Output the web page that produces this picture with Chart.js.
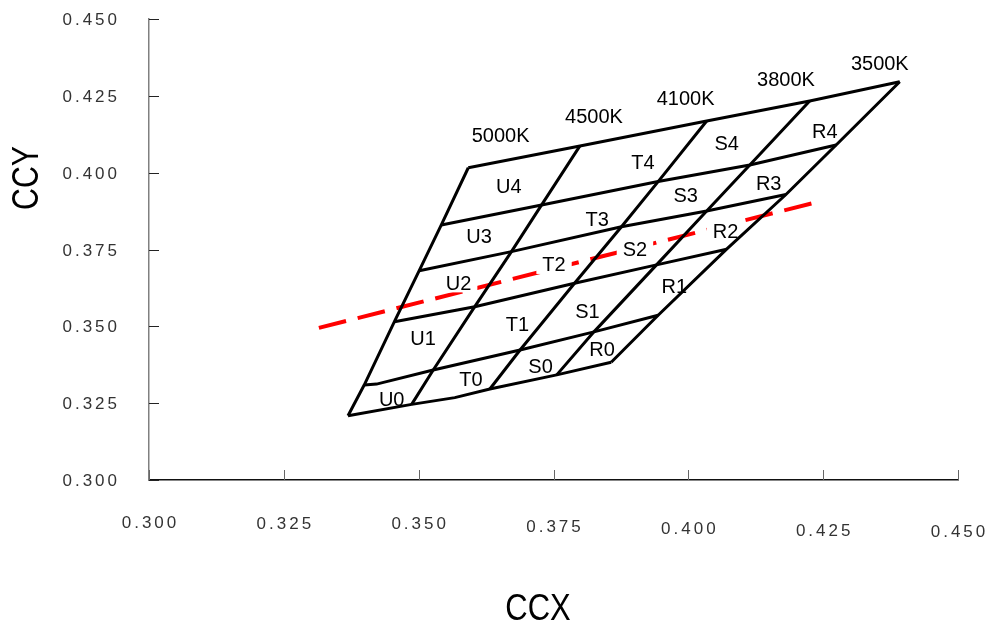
<!DOCTYPE html>
<html>
<head>
<meta charset="utf-8">
<script src="https://cdn.jsdelivr.net/npm/chart.js@4.4.1/dist/chart.umd.min.js"></script>
<style>
  html, body { margin: 0; padding: 0; background: #fff; }
  #wrap { width: 988px; height: 629px; position: relative; }
</style>
</head>
<body>
<div id="wrap"><canvas id="ccx-chart"></canvas></div>
<script>
// Bin grid corners, rows bottom -> top (0..5),
// columns: U left edge, U/T, T/S, S/R, R right edge
const gridX = [
  [0.3369, 0.3487, 0.3632, 0.3756, 0.3857],
  [0.3399, 0.3527, 0.3688, 0.3825, 0.3944],
  [0.3455, 0.3604, 0.3789, 0.3941, 0.4071],
  [0.3501, 0.3672, 0.3876, 0.4034, 0.4181],
  [0.3542, 0.3728, 0.3944, 0.4114, 0.4274],
  [0.3592, 0.3799, 0.4034, 0.4225, 0.4392]
];
const gridY = [
  [0.3209, 0.3246, 0.3296, 0.3342, 0.3383],
  [0.3309, 0.3358, 0.3423, 0.3482, 0.3536],
  [0.3515, 0.3564, 0.3640, 0.3700, 0.3751],
  [0.3681, 0.3743, 0.3824, 0.3875, 0.3929],
  [0.3830, 0.3895, 0.3971, 0.4025, 0.4090],
  [0.4016, 0.4087, 0.4168, 0.4233, 0.4296]
];
// small bends in the two lowest lines
const bottomKink = [0.3567, 0.3268];
const row1Hook = [0.3422, 0.3312];

// bin names and where they sit
const binNames = [
  'U0', 'U1', 'U2', 'U3', 'U4',
  'T0', 'T1', 'T2', 'T3', 'T4',
  'S0', 'S1', 'S2', 'S3', 'S4',
  'R0', 'R1', 'R2', 'R3', 'R4'
];
const binX = [
  0.3450, 0.3508, 0.3574, 0.3612, 0.3667,
  0.3597, 0.3683, 0.3751, 0.3831, 0.3916,
  0.3726, 0.3813, 0.3901, 0.3995, 0.4071,
  0.3840, 0.3974, 0.4069, 0.4149, 0.4253
];
const binY = [
  0.3264, 0.3464, 0.3643, 0.3794, 0.3957,
  0.3329, 0.3508, 0.3703, 0.3849, 0.4036,
  0.3371, 0.3550, 0.3752, 0.3927, 0.4098,
  0.3426, 0.3631, 0.3811, 0.3968, 0.4136
];

const cctLabels = ['5000K', '4500K', '4100K', '3800K', '3500K'];
const cctX = [0.3652, 0.3825, 0.3995, 0.4181, 0.4355];
const cctY = [0.4124, 0.4185, 0.4243, 0.4306, 0.4357];

// red dashed line
const dashX = [0.3315, 0.4231];
const dashY = [0.3495, 0.3901];

const xTicks = [0.300, 0.325, 0.350, 0.375, 0.400, 0.425, 0.450];
const yTicks = [0.300, 0.325, 0.350, 0.375, 0.400, 0.425, 0.450];

const BIN_FONT = '20px "Liberation Sans", Arial, sans-serif';
const TICK_FONT = '17px "Liberation Sans", Arial, sans-serif';
const TITLE_FONT = '36px "Liberation Sans", Arial, sans-serif';
const xLabelTop = [522, 523, 523, 526, 528, 530, 531];

// build polylines
const lineStyle = {
  borderColor: '#000',
  borderWidth: 3,
  pointRadius: 0,
  showLine: true,
  fill: false,
  tension: 0,
  order: 0
};

const datasets = [];
for (let r = 0; r < gridX.length; r++) {
  const pts = gridX[r].map((vx, c) => ({ x: vx, y: gridY[r][c] }));
  if (r === 0) pts.splice(2, 0, { x: bottomKink[0], y: bottomKink[1] });
  if (r === 1) pts.splice(1, 0, { x: row1Hook[0], y: row1Hook[1] });
  datasets.push({ label: 'row ' + r, data: pts, ...lineStyle });
}
for (let c = 0; c < gridX[0].length; c++) {
  datasets.push({
    label: 'edge ' + c,
    data: gridX.map((row, r) => ({ x: row[c], y: gridY[r][c] })),
    ...lineStyle
  });
}
const dashIndex = datasets.length;
datasets.push({
  label: 'locus',
  data: dashX.map((vx, i) => ({ x: vx, y: dashY[i] })),
  borderColor: '#ff0000',
  borderWidth: 4,
  borderDash: [28, 12],
  borderCapStyle: 'butt',
  pointRadius: 0,
  showLine: true,
  order: 1
});

// text centred on its cap height
function capText(ctx, text, px, py, size) {
  ctx.fillText(text, px, py + size * 0.36);
}

const overlay = {
  id: 'overlay',
  afterDatasetDraw(chart, args) {
    // white boxes behind the bin names, over the red line only
    if (args.index !== dashIndex) return;
    const { ctx, scales: { x, y } } = chart;
    ctx.save();
    ctx.font = BIN_FONT;
    ctx.fillStyle = '#fff';
    binNames.forEach((name, i) => {
      const w = ctx.measureText(name).width + 12;
      const px = x.getPixelForValue(binX[i]);
      const py = y.getPixelForValue(binY[i]);
      ctx.fillRect(px - w / 2, py - 10, w, 20);
    });
    ctx.restore();
  },
  afterDatasetsDraw(chart) {
    const { ctx, chartArea, scales: { x, y } } = chart;
    ctx.save();

    // tick marks pointing into the plot
    ctx.lineWidth = 1;
    ctx.strokeStyle = '#666';
    xTicks.forEach(v => {
      const px = Math.round(x.getPixelForValue(v)) + 0.5;
      ctx.beginPath();
      ctx.moveTo(px, chartArea.bottom);
      ctx.lineTo(px, chartArea.bottom - 10);
      ctx.stroke();
    });
    ctx.strokeStyle = '#222';
    yTicks.forEach(v => {
      const py = Math.round(y.getPixelForValue(v)) + 0.5;
      ctx.beginPath();
      ctx.moveTo(chartArea.left, py);
      ctx.lineTo(chartArea.left + 10, py);
      ctx.stroke();
    });

    // tick labels
    ctx.fillStyle = '#333';
    ctx.font = TICK_FONT;
    ctx.letterSpacing = '3px';
    ctx.textAlign = 'right';
    yTicks.forEach(v => {
      capText(ctx, v.toFixed(3), chartArea.left - 29, y.getPixelForValue(v), 17);
    });
    ctx.textAlign = 'center';
    xTicks.forEach((v, i) => {
      capText(ctx, v.toFixed(3), x.getPixelForValue(v) + 1.5, xLabelTop[i], 17);
    });
    ctx.letterSpacing = '0px';

    // axis titles, narrow and tall
    ctx.fillStyle = '#000';
    ctx.font = TITLE_FONT;
    ctx.save();
    ctx.translate(538, 607);
    ctx.scale(0.86, 1);
    capText(ctx, 'CCX', 0, 0, 36);
    ctx.restore();
    ctx.save();
    ctx.translate(25, 178);
    ctx.rotate(-Math.PI / 2);
    ctx.scale(0.84, 1);
    capText(ctx, 'CCY', 0, 0, 36);
    ctx.restore();

    // bin names and colour temperatures
    ctx.font = BIN_FONT;
    binNames.forEach((name, i) => {
      capText(ctx, name, x.getPixelForValue(binX[i]), y.getPixelForValue(binY[i]), 20);
    });
    cctLabels.forEach((t, i) => {
      capText(ctx, t, x.getPixelForValue(cctX[i]), y.getPixelForValue(cctY[i]), 20);
    });

    ctx.restore();
  }
};

new Chart(document.getElementById('ccx-chart'), {
  type: 'scatter',
  data: { datasets: datasets },
  options: {
    responsive: true,
    maintainAspectRatio: false,
    animation: false,
    events: [],
    layout: { padding: { left: 149, right: 30, top: 19, bottom: 149 } },
    plugins: {
      legend: { display: false },
      tooltip: { enabled: false }
    },
    scales: {
      x: {
        type: 'linear',
        min: 0.3,
        max: 0.45,
        ticks: { display: false, stepSize: 0.025 },
        grid: { drawOnChartArea: false, drawTicks: false },
        border: { display: true, color: '#111', width: 1.5 }
      },
      y: {
        type: 'linear',
        min: 0.3,
        max: 0.45,
        ticks: { display: false, stepSize: 0.025 },
        grid: { drawOnChartArea: false, drawTicks: false },
        border: { display: true, color: '#808080', width: 1.5 }
      }
    }
  },
  plugins: [overlay]
});
</script>
</body>
</html>
